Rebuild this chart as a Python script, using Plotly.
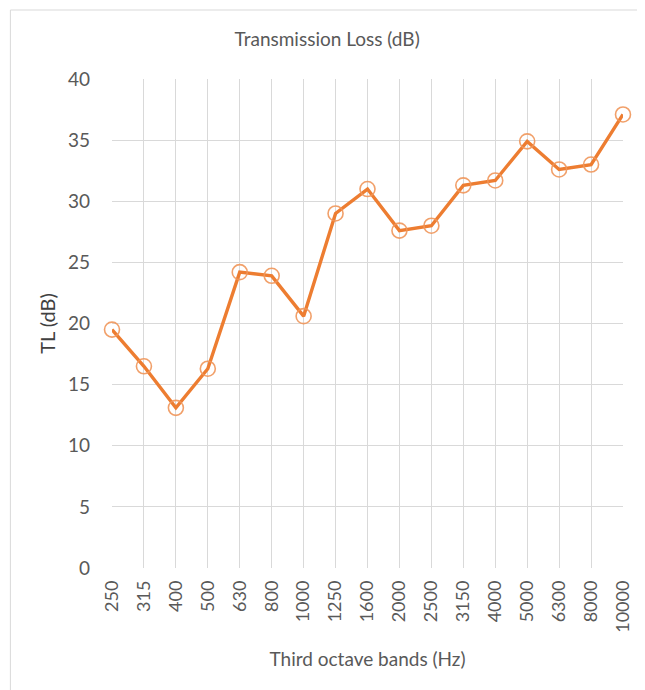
import plotly.graph_objects as go

bands = ["250", "315", "400", "500", "630", "800", "1000", "1250", "1600",
         "2000", "2500", "3150", "4000", "5000", "6300", "8000", "10000"]
tl_values = [19.5, 16.5, 13.1, 16.3, 24.2, 23.9, 20.6, 29.0, 31.0,
             27.6, 28.0, 31.3, 31.7, 34.9, 32.6, 33.0, 37.1]
y_ticks = [0, 5, 10, 15, 20, 25, 30, 35, 40]

FONT = "Lato"
GRAY = "#595959"
ORANGE = "#ED7D31"

# page body has an 8px margin; figure is sized to fill the rest of the window
W, H = 637, 682
L, R, T, B = 104, 20, 71, 122
PW, PH = W - L - R, H - T - B

fig = go.Figure()
fig.add_trace(go.Scatter(
    x=bands, y=tl_values, mode="lines+markers",
    line=dict(color=ORANGE, width=3.4),
    marker=dict(symbol="circle-open", size=15, color="rgba(240,150,90,0.9)",
                line=dict(width=1.6, color="rgba(240,150,90,0.9)")),
    cliponaxis=False, showlegend=False,
))

fig.update_layout(
    width=W, height=H,
    paper_bgcolor="white", plot_bgcolor="white",
    margin=dict(l=L, r=R, t=T, b=B),
    font=dict(family=FONT, color=GRAY),
    title=dict(text="Transmission Loss (dB)", x=(328 - 8 - L) / PW, xref="paper",
               xanchor="center", y=1 - 31 / H, yanchor="middle",
               font=dict(size=19, color=GRAY)),
    xaxis=dict(type="category", range=[0, len(bands) - 1], showgrid=True,
               gridcolor="#D9D9D9", gridwidth=1, showline=False, zeroline=False,
               tickangle=-90, tickfont=dict(size=18, color=GRAY),
               ticklabelstandoff=8,
               title=dict(text="Third octave bands (Hz)", font=dict(size=19, color=GRAY),
                          standoff=20)),
    yaxis=dict(range=[0, 40], tickvals=y_ticks, showgrid=True, gridcolor="#D9D9D9",
               gridwidth=1, zeroline=False, showline=False,
               tickfont=dict(size=19, color=GRAY), ticklabelstandoff=21,
               title=dict(text="TL (dB)", font=dict(size=20, color="#404040"),
                          standoff=6)),
    shapes=[dict(type="rect", xref="paper", yref="paper",
                 x0=-102 / PW, x1=1 + 18 / PW, y0=-150 / PH, y1=1 + 69 / PH,
                 line=dict(color="#D9D9D9", width=1), fillcolor="rgba(0,0,0,0)",
                 layer="below")],
)

fig.write_html("out.html")
